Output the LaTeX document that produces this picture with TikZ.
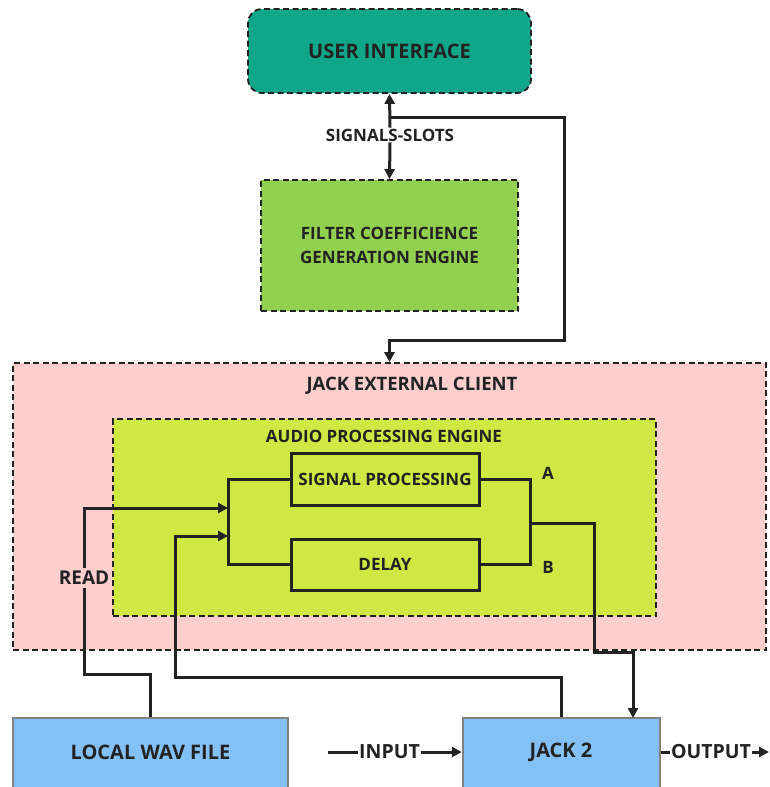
\documentclass[tikz,border=0pt]{standalone}
\usepackage{fontspec}
\setmainfont{Open Sans}
\usetikzlibrary{arrows.meta,calc}
\definecolor{uiteal}{HTML}{0FA68A}
\definecolor{fcgreen}{HTML}{92D050}
\definecolor{jecpink}{HTML}{FCCFCC}
\definecolor{apelime}{HTML}{D0E843}
\definecolor{fileblue}{HTML}{83C0F5}
\definecolor{txt}{HTML}{222222}
\newcommand{\fsz}[1]{\fontsize{#1}{#1}\selectfont\bfseries}
\tikzset{
  dashbox/.style={draw=txt, line width=1.8pt, dash pattern=on 6pt off 3.5pt},
  solidbox/.style={draw=txt, line width=3pt, fill=apelime, font=\fsz{17}},
  bluebox/.style={draw=gray, line width=2.4pt, fill=fileblue},
  lbl/.style={font=\fsz{17}, text=txt, inner sep=1pt},
  conn/.style={draw=txt, line width=3pt},
  arr/.style={conn, -{Triangle[length=10pt,width=10pt]}},
}
\begin{document}
\begin{tikzpicture}[x=1pt,y=-1pt]
\useasboundingbox (0,0) rectangle (769,787);
\node[dashbox, fill=uiteal, rounded corners=14pt, minimum width=283pt, minimum height=84pt,
  font=\fsz{20}, text=txt] (UI) at (389.5,51) {USER INTERFACE};
\node[dashbox, fill=fcgreen, minimum width=257pt, minimum height=131pt, align=center,
  font=\fontsize{17}{24}\selectfont\bfseries, text=txt] (FC) at (389.5,245.5) {FILTER COEFFICIENCE\\GENERATION ENGINE};
\node[dashbox, fill=jecpink, minimum width=753pt, minimum height=287pt] (JEC) at (389.5,506.5) {};
\node[lbl, font=\fsz{18.5}] (jecl) at (412,386) {JACK EXTERNAL CLIENT};
\node[dashbox, fill=apelime, minimum width=543pt, minimum height=197pt] (APE) at (384.5,517.5) {};
\node[lbl] (apel) at (384,436) {AUDIO PROCESSING ENGINE};
\node[solidbox, minimum width=188pt, minimum height=52pt, text=txt] (SP) at (385,479) {SIGNAL PROCESSING};
\node[solidbox, minimum width=188pt, minimum height=51pt, text=txt] (DL) at (385,564.5) {DELAY};
\node[lbl] (A) at (548,473) {A};
\node[lbl] (B) at (548,567) {B};
\node[bluebox, minimum width=275pt, minimum height=84pt] (LWF) at (150.5,760) {};
\node[lbl, font=\fsz{20}] (lwft) at (150.5,752) {LOCAL WAV FILE};
\node[bluebox, minimum width=197pt, minimum height=84pt] (JK) at (561.5,760) {};
\node[lbl, font=\fsz{20}] (jkt) at (561,752) {JACK 2};
% signals-slots
\node[lbl, fill=white] (ss) at (390,135) {SIGNALS-SLOTS};
\coordinate (j1) at (390,117);
\coordinate (r1) at (564,340);
\draw[arr] (ss.north) -- (UI.south);
\draw[arr] (ss.south) -- (FC.north);
\draw[arr] (j1) -| (r1) -| (JEC.north);
% brackets
\coordinate (lb) at (228,520);
\coordinate (rb) at (530,523);
\draw[conn] (SP.west) -| (lb) |- (DL.west);
\draw[conn] (SP.east) -| (rb) |- (DL.east);
\coordinate (o1) at (594,652);
\coordinate (jkin) at (633,718);
\draw[arr] (rb) -| (o1) -| (jkin);
% read
\coordinate (rd1) at (84,674);
\coordinate (rd2) at (228,508);
\draw[arr] (LWF.north) |- (rd1) |- (rd2);
\node[lbl, fill=jecpink, font=\fsz{19}, inner sep=3pt] (read) at (84,578) {READ};
\coordinate (jk1) at (175,677);
\coordinate (jk2) at (228,536);
\draw[arr] (JK.north) |- (jk1) |- (jk2);
% input/output
\coordinate (in0) at (328,752);
\node[lbl, font=\fsz{19.5}] (inp) at (389.5,752) {INPUT};
\draw[conn] (in0) -- (inp.west);
\draw[arr] (inp.east) -- (JK.west |- inp.east);
\node[lbl, font=\fsz{19.5}] (out) at (711,752) {OUTPUT};
\coordinate (out1) at (769,752);
\draw[conn] (JK.east |- out.west) -- (out.west);
\draw[arr] (out.east) -- (out1);
\end{tikzpicture}
\end{document}
